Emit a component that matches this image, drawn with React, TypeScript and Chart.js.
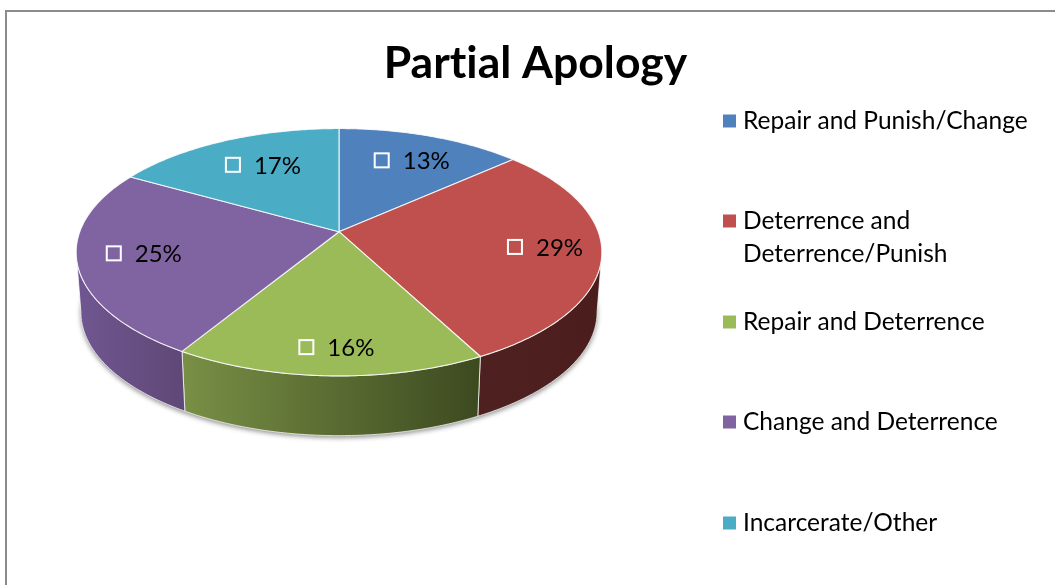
import React, { useEffect, useRef } from "react";
import { Chart, ArcElement, PieController, Title, layouts } from "chart.js";

const titleText = "Partial Apology";
const categories = [
  "Repair and Punish/Change",
  "Deterrence and Deterrence/Punish",
  "Repair and Deterrence",
  "Change and Deterrence",
  "Incarcerate/Other",
];
const percentages = [13.4, 28.9, 16.4, 24.5, 16.8];
const faceColors = ["#4F81BD", "#C0504D", "#9BBB59", "#8064A2", "#4BACC6"];
const wallStops = [
  ["#3a5f8c", "#3a5f8c"],
  ["#4f2020", "#4b1e1d"],
  ["#788f45", "#3d4a20"],
  ["#6f5690", "#5f4876"],
  ["#387f93", "#387f93"],
];

const FONT = "Lato, Carlito, Calibri, sans-serif";
const LABEL_SIZE = 24;
const LEGEND_SIZE = 24.5;
const LEGEND_BOX_WIDTH = 393;
const LEGEND_ROWS_Y = [121, 221, 322, 422, 523];
const LEGEND_LINE = 33;
const LEGEND_WRAP = 295;
const TILT = 0.166;
const X_SCALE = 1.974;
const Y_SCALE = 0.916;
const DEPTH = 0.455;
const FOOT_SHRINK = 0.982;
const LABEL_RADIUS = 0.78;
const labelNudges = [
  [1, 3],
  [1, -2],
  [5, 3],
  [9, -3],
  [13, 4],
];

function project(arc: any, theta: number, f = 1) {
  const d = 1 + TILT * Math.cos(theta) * f;
  return {
    x: arc.x + (arc.outerRadius * X_SCALE * Math.sin(theta) * f) / d,
    y: arc.y - (arc.outerRadius * Y_SCALE * Math.cos(theta) * f) / d,
  };
}

function thetas(a: number, b: number) {
  const n = Math.max(2, Math.ceil(Math.abs(b - a) * 90));
  const out: number[] = [];
  for (let i = 0; i <= n; i++) out.push(a + ((b - a) * i) / n);
  return out;
}

class Arc3d extends (ArcElement as any) {
  static id = "arc3d";
  draw(ctx: CanvasRenderingContext2D) {
    const self = this as any;
    const a = self.startAngle + Math.PI / 2;
    const b = self.endAngle + Math.PI / 2;
    const idx = self.$context?.dataIndex ?? 0;
    const geo = { x: self.x, y: self.y, outerRadius: self.outerRadius };
    const dep = geo.outerRadius * DEPTH;
    const foot = (t: number) => {
      const p = project(geo, t);
      return { x: geo.x + (p.x - geo.x) * FOOT_SHRINK, y: p.y + dep };
    };
    const side = Math.acos(-TILT);
    const lo = Math.max(a, side);
    const hi = Math.min(b, 2 * Math.PI - side);
    ctx.save();
    if (hi > lo) {
      const left = Math.min(foot(lo).x, foot(hi).x);
      const right = Math.max(foot(lo).x, foot(hi).x);
      const g = ctx.createLinearGradient(left, 0, right, 0);
      const stops = wallStops[idx];
      g.addColorStop(0, stops[0]);
      g.addColorStop(1, stops[1]);
      ctx.beginPath();
      thetas(lo, hi).forEach((t, i) => {
        const p = project(geo, t);
        i ? ctx.lineTo(p.x, p.y) : ctx.moveTo(p.x, p.y);
      });
      thetas(hi, lo).forEach((t) => {
        const p = foot(t);
        ctx.lineTo(p.x, p.y);
      });
      ctx.closePath();
      ctx.fillStyle = g;
      ctx.fill();
      ctx.strokeStyle = "rgba(255,255,255,0.75)";
      ctx.lineWidth = 1;
      ctx.stroke();
    }
    ctx.beginPath();
    ctx.moveTo(geo.x, geo.y);
    thetas(a, b).forEach((t) => {
      const p = project(geo, t);
      ctx.lineTo(p.x, p.y);
    });
    ctx.closePath();
    ctx.fillStyle = self.options.backgroundColor;
    ctx.fill();
    ctx.strokeStyle = "rgba(255,255,255,0.85)";
    ctx.lineWidth = 1.1;
    ctx.lineJoin = "round";
    ctx.stroke();
    ctx.restore();
  }
}

class Pie3dController extends (PieController as any) {
  static id = "pie3d";
  static defaults = { dataElementType: "arc3d" };
}

Chart.register(Title, Arc3d as any, Pie3dController as any);

function wrap(ctx: CanvasRenderingContext2D, text: string, max: number) {
  const lines: string[] = [];
  let cur = "";
  for (const w of text.split(" ")) {
    const t = cur ? cur + " " + w : w;
    if (cur && ctx.measureText(t).width > max) {
      lines.push(cur);
      cur = w;
    } else cur = t;
  }
  lines.push(cur);
  return lines;
}

const framePlugin = {
  id: "frame",
  beforeDraw(chart: any) {
    const { ctx, width, height } = chart;
    (ctx as any).textRendering = "optimizeSpeed";
    ctx.save();
    ctx.fillStyle = "#8b8b8b";
    ctx.fillRect(5, 10, width - 5, 2);
    ctx.fillRect(5, 10, 2, height - 10);
    ctx.restore();
  },
};

const legendPlugin = {
  id: "sideLegend",
  start(chart: any) {
    const box: any = {
      position: "right",
      weight: 0,
      fullSize: false,
      options: {},
      left: 0,
      top: 0,
      right: 0,
      bottom: 0,
      width: LEGEND_BOX_WIDTH,
      height: 0,
      isHorizontal: () => false,
      update(_w: number, h: number) {
        box.width = LEGEND_BOX_WIDTH;
        box.height = h;
      },
      draw() {
        const ctx = chart.ctx;
        ctx.save();
        ctx.font = `${LEGEND_SIZE}px ${FONT}`;
        ctx.textBaseline = "middle";
        (chart.data.labels as string[]).forEach((label, i) => {
          const y = LEGEND_ROWS_Y[i];
          ctx.fillStyle = faceColors[i];
          ctx.fillRect(box.left + 61, y - 6.5, 13, 13);
          ctx.fillStyle = "#000";
          wrap(ctx, label, LEGEND_WRAP).forEach((line, k) => {
            ctx.fillText(line, box.left + 81, y + k * LEGEND_LINE);
          });
        });
        ctx.restore();
      },
    };
    layouts.addBox(chart, box);
  },
};

const depthShadowPlugin = {
  id: "depthShadow",
  beforeDatasetsDraw(chart: any) {
    const arc = chart.getDatasetMeta(0).data[0];
    if (!arc) return;
    const { ctx } = chart;
    const geo = { x: arc.x, y: arc.y, outerRadius: arc.outerRadius };
    const dep = geo.outerRadius * DEPTH;
    ctx.save();
    ctx.shadowColor = "rgba(0,0,0,0.45)";
    ctx.shadowBlur = 5;
    ctx.shadowOffsetY = 2;
    ctx.fillStyle = "#777";
    ctx.beginPath();
    thetas(0, Math.PI * 2).forEach((t, i) => {
      const p = project(geo, t);
      const x = geo.x + (p.x - geo.x) * FOOT_SHRINK;
      i ? ctx.lineTo(x, p.y + dep) : ctx.moveTo(x, p.y + dep);
    });
    ctx.closePath();
    ctx.fill();
    ctx.restore();
  },
};

const labelPlugin = {
  id: "sliceLabels",
  afterDatasetsDraw(chart: any) {
    const { ctx } = chart;
    const arcs = chart.getDatasetMeta(0).data;
    const values = chart.data.datasets[0].data as number[];
    ctx.save();
    ctx.font = `${LABEL_SIZE}px ${FONT}`;
    ctx.textBaseline = "middle";
    arcs.forEach((arc: any, i: number) => {
      const mid = (arc.startAngle + arc.endAngle) / 2 + Math.PI / 2;
      const geo = { x: arc.x, y: arc.y, outerRadius: arc.outerRadius };
      const p = project(geo, mid);
      const cx = arc.x + (p.x - arc.x) * LABEL_RADIUS + labelNudges[i][0];
      const cy = arc.y + (p.y - arc.y) * LABEL_RADIUS + labelNudges[i][1];
      const text = `${Math.round(values[i])}%`;
      const w = 29 + ctx.measureText(text).width;
      const left = cx - w / 2;
      ctx.strokeStyle = "#fff";
      ctx.lineWidth = 2;
      ctx.strokeRect(left + 1, cy - 7, 14, 14);
      ctx.fillStyle = "#000";
      ctx.fillText(text, left + 29, cy + 1);
    });
    ctx.restore();
  },
};

export default function App() {
  const ref = useRef<HTMLCanvasElement>(null);
  useEffect(() => {
    const chart = new Chart(ref.current as HTMLCanvasElement, {
      type: "pie3d" as any,
      data: {
        labels: categories,
        datasets: [{ data: percentages, backgroundColor: faceColors, borderWidth: 0 }],
      },
      options: {
        animation: false,
        responsive: false,
        layout: { padding: { left: 16, top: 0, right: 0, bottom: 222 } },
        plugins: {
          legend: { display: false },
          tooltip: { enabled: false },
          title: {
            display: true,
            text: titleText,
            color: "#000",
            font: { family: FONT, size: 44.5, weight: "bold", lineHeight: 1.2 },
            padding: { top: 37, bottom: 10 },
          },
        },
      } as any,
      plugins: [framePlugin, legendPlugin, depthShadowPlugin, labelPlugin] as any,
    });
    return () => chart.destroy();
  }, []);
  return (
    <canvas
      ref={ref}
      width={1055}
      height={585}
      style={{ position: "fixed", left: 0, top: 0, width: 1055, height: 585, background: "#fff" }}
    />
  );
}
